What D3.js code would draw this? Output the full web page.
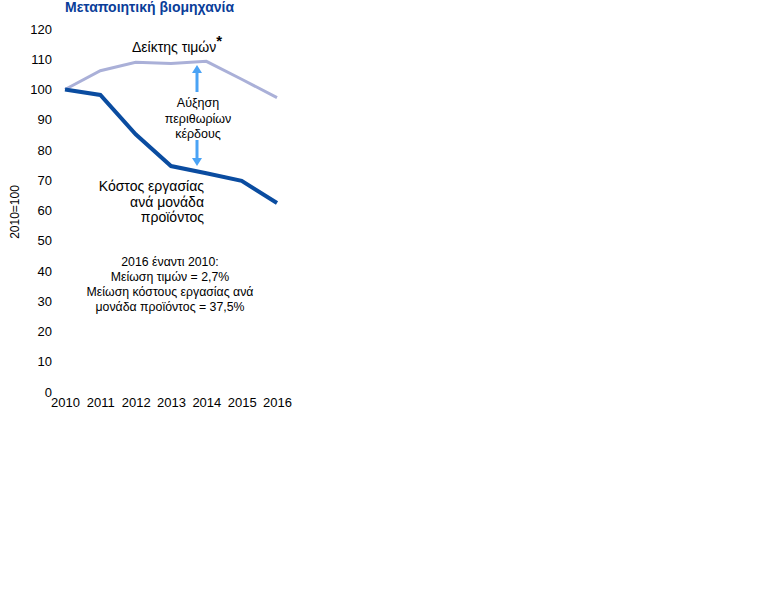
<!DOCTYPE html>
<html><head><meta charset="utf-8">
<script src="https://cdn.jsdelivr.net/npm/d3@7"></script>
<style>body{margin:0;background:#fff}svg{display:block}text{font-family:"Liberation Sans",Arial,sans-serif}</style>
</head><body><svg id="c" width="768" height="614"></svg>
<script>
const years = [2010, 2011, 2012, 2013, 2014, 2015, 2016];
const priceIndex = [100, 106.2, 109.0, 108.6, 109.3, 103.4, 97.3];
const unitLabourCost = [100, 98.2, 85.2, 74.7, 72.3, 69.8, 62.5];
const yTicks = [0, 10, 20, 30, 40, 50, 60, 70, 80, 90, 100, 110, 120];

const svg = d3.select("#c");
const x = d3.scalePoint().domain(years).range([65, 277]);
const y = d3.scaleLinear().domain([0, 120]).range([392, 29]);

const ya = svg.append("g").attr("transform", "translate(52,0)")
  .call(d3.axisLeft(y).tickValues(yTicks).tickSize(0).tickPadding(0));
ya.select(".domain").remove();
ya.selectAll("text").attr("font-size", 13).attr("fill", "#000").attr("font-family", "Liberation Sans, Arial, sans-serif");

const xa = svg.append("g").attr("transform", "translate(0,398)")
  .call(d3.axisBottom(x).tickSize(0).tickPadding(0).tickFormat(d3.format("d")));
xa.select(".domain").remove();
xa.selectAll("text").attr("font-size", 13).attr("fill", "#000").attr("font-family", "Liberation Sans, Arial, sans-serif");

svg.append("text").attr("transform", "translate(19,212) rotate(-90)")
  .attr("text-anchor", "middle").attr("font-size", 12).text("2010=100");

const line = d3.line().x((d, i) => x(years[i])).y(d => y(d));
svg.append("path").datum(priceIndex).attr("d", line)
  .attr("fill", "none").attr("stroke", "#aab0d8").attr("stroke-width", 3);
svg.append("path").datum(unitLabourCost).attr("d", line)
  .attr("fill", "none").attr("stroke", "#0a4ca0").attr("stroke-width", 4);

svg.append("text").attr("x", 65).attr("y", 12).attr("font-size", 14).attr("font-weight", "bold")
  .attr("fill", "#0a3d99").text("Μεταποιητική βιομηχανία");

const pl = svg.append("text").attr("x", 132).attr("y", 52).attr("font-size", 14);
pl.append("tspan").text("Δείκτης τιμών");
pl.append("tspan").attr("dy", -6).attr("font-size", 15).attr("font-weight", "bold").text("*");

const ac = "#4aa3f5";
const ax = 197;
function arrow(y1, y2) {
  const dir = Math.sign(y2 - y1);
  svg.append("line").attr("x1", ax).attr("x2", ax).attr("y1", y1).attr("y2", y2 - dir * 7)
    .attr("stroke", ac).attr("stroke-width", 3);
  svg.append("path").attr("d", `M${ax-5},${y2 - dir*8} L${ax+5},${y2 - dir*8} L${ax},${y2} Z`).attr("fill", ac);
}
arrow(92, 65);
arrow(140, 166);

const mg = ["Αύξηση", "περιθωρίων", "κέρδους"];
mg.forEach((t, i) => svg.append("text").attr("x", 198).attr("y", 107 + i * 15.5)
  .attr("text-anchor", "middle").attr("font-size", 12.5).text(t));

const ul = ["Κόστος εργασίας", "ανά μονάδα", "προϊόντος"];
ul.forEach((t, i) => svg.append("text").attr("x", 204).attr("y", 191 + i * 15.5)
  .attr("text-anchor", "end").attr("font-size", 14).text(t));

const note = ["2016 έναντι 2010:", "Μείωση τιμών = 2,7%", "Μείωση κόστους εργασίας ανά", "μονάδα προϊόντος = 37,5%"];
note.forEach((t, i) => svg.append("text").attr("x", 170).attr("y", 266 + i * 15)
  .attr("text-anchor", "middle").attr("font-size", 12.3).text(t));
</script></body></html>
